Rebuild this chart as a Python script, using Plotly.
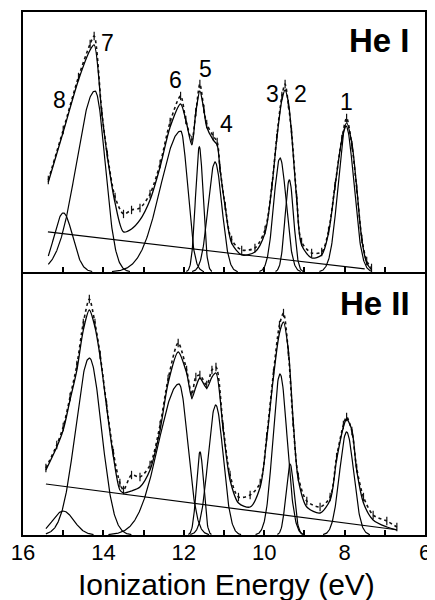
import numpy as np
import plotly.graph_objects as go

# ---------------- data ----------------
peak_labels = ["1", "2", "3", "4", "5", "6", "7", "8"]

# He I fitted Gaussian components (center eV, height, sigma high-E side, sigma low-E side)
hei_center = [7.965, 9.375, 9.607, 11.224, 11.614, 12.077, 14.209, 14.998]
hei_height = [146, 92, 114, 110, 125, 141, 181, 59]
hei_sig_hi = [0.195, 0.106, 0.155, 0.17, 0.095, 0.50, 0.46, 0.23]
hei_sig_lo = [0.195, 0.106, 0.155, 0.17, 0.095, 0.17, 0.25, 0.23]
hei_base_x = [15.38, 7.50]
hei_base_y = [40, 3]

hei_env_x = [15.37, 15.0, 14.62, 14.33, 14.23, 14.04, 13.90, 13.71, 13.5, 13.3, 13.09, 12.84,
             12.59, 12.34, 12.08, 11.95, 11.80, 11.70, 11.60, 11.50, 11.43, 11.27, 11.17, 11.10,
             10.97, 10.81, 10.56, 10.23, 9.98, 9.81, 9.69, 9.56, 9.48, 9.40, 9.32, 9.19, 9.07,
             8.82, 8.57, 8.40, 8.24, 8.07, 7.95, 7.82, 7.70, 7.57, 7.45, 7.33]
hei_env_y = [90, 140, 192, 222, 227, 159, 115, 69, 40, 43, 52, 72,
             105, 145, 168, 152, 127, 160, 181, 162, 145, 132, 127, 103,
             65, 29, 17, 20, 39, 85, 132, 172, 182, 170, 139, 72, 27,
             14, 17, 39, 85, 132, 149, 129, 85, 32, 9, 2]
hei_data_y = [92, 142, 195, 228, 236, 160, 117, 75, 58, 62, 64, 78,
              108, 150, 176, 152, 132, 160, 188, 163, 148, 136, 130, 104,
              66, 32, 22, 24, 42, 86, 134, 176, 188, 168, 140, 74, 30,
              19, 20, 41, 86, 133, 154, 127, 84, 33, 11, 4]

# He II fitted Gaussian components
heii_center = [7.95, 9.358, 9.607, 11.207, 11.597, 12.12, 14.35, 15.0]
heii_height = [103, 71, 161, 130, 83, 151, 177, 24]
heii_sig_hi = [0.176, 0.10, 0.176, 0.187, 0.09, 0.51, 0.34, 0.265]
heii_sig_lo = [0.176, 0.10, 0.176, 0.187, 0.09, 0.22, 0.30, 0.265]
heii_base_x = [15.43, 6.75]
heii_base_y = [51, 5.5]

heii_env_x = [15.43, 15.16, 15.0, 14.83, 14.66, 14.5, 14.35, 14.21, 14.08, 13.92, 13.75, 13.59,
              13.5, 13.3, 13.09, 12.84, 12.59, 12.39, 12.14, 11.93, 11.80, 11.70, 11.60, 11.43,
              11.30, 11.20, 11.02, 10.85, 10.64, 10.35, 10.10, 9.94, 9.77, 9.62, 9.52, 9.40,
              9.28, 9.15, 8.94, 8.61, 8.36, 8.20, 8.03, 7.95, 7.82, 7.70, 7.53, 7.29, 6.95, 6.70]
heii_env_y = [65, 88, 105, 135, 165, 205, 225, 208, 178, 128, 78, 45,
              42, 44, 48, 65, 105, 152, 183, 162, 137, 148, 157, 147,
              158, 162, 105, 55, 32, 28, 48, 95, 158, 202, 213, 185,
              115, 55, 28, 22, 35, 75, 108, 116, 105, 65, 32, 15, 8, 5]
heii_data_y = [67, 90, 108, 138, 170, 212, 236, 212, 180, 130, 82, 52,
               45, 60, 58, 70, 110, 156, 192, 165, 140, 158, 160, 150,
               165, 168, 108, 60, 38, 40, 52, 98, 162, 210, 222, 183,
               112, 58, 34, 28, 38, 78, 110, 118, 104, 67, 38, 20, 14, 8]

# label positions (eV, height) in the He I panel
hei_lab_x = [7.965, 9.085, 9.806, 10.95, 11.46, 12.207, 13.886, 15.10]
hei_lab_y = [170, 178, 178, 148, 203, 192, 229, 172]

x_ticks = [16, 15, 14, 13, 12, 11, 10, 9, 8, 7, 6]
x_ticktext = ["16", "", "14", "", "12", "", "10", "", "8", "", "6"]

FONT = "Liberation Sans, Arial, sans-serif"

fig = go.Figure()


def comp_curve(xg, c, h, shi, slo):
    s = np.where(xg >= c, shi, slo)
    y = h * np.exp(-0.5 * ((xg - c) / s) ** 2)
    y = np.where(y < 0.4, np.nan, y)
    return y


def add_panel(xa, ya, cen, hgt, shi, slo, bx, by, ex, ey, dy):
    xg = np.linspace(max(ex), min(ex), 900)
    for c, h, s1, s2 in zip(cen, hgt, shi, slo):
        fig.add_trace(go.Scatter(x=xg, y=comp_curve(xg, c, h, s1, s2), mode="lines",
                                 line=dict(color="black", width=1.2), xaxis=xa, yaxis=ya,
                                 showlegend=False, hoverinfo="skip"))
    fig.add_trace(go.Scatter(x=bx, y=by, mode="lines", line=dict(color="black", width=1.2),
                             xaxis=xa, yaxis=ya, showlegend=False))
    fig.add_trace(go.Scatter(x=ex, y=dy, mode="lines+markers",
                             line=dict(color="#111", width=1.6, dash="dot", shape="spline", smoothing=0.8),
                             marker=dict(symbol="line-ns-open", size=6, line=dict(width=1.2, color="black")),
                             xaxis=xa, yaxis=ya, showlegend=False))
    fig.add_trace(go.Scatter(x=ex, y=ey, mode="lines",
                             line=dict(color="black", width=1.3, shape="spline", smoothing=0.8),
                             xaxis=xa, yaxis=ya, showlegend=False))


add_panel("x2", "y2", hei_center, hei_height, hei_sig_hi, hei_sig_lo,
          hei_base_x, hei_base_y, hei_env_x, hei_env_y, hei_data_y)
add_panel("x", "y", heii_center, heii_height, heii_sig_hi, heii_sig_lo,
          heii_base_x, heii_base_y, heii_env_x, heii_env_y, heii_data_y)

for t, lx, ly in zip(peak_labels, hei_lab_x, hei_lab_y):
    fig.add_annotation(x=lx, y=ly, xref="x2", yref="y2", text=t, showarrow=False,
                       font=dict(family=FONT, size=23, color="black"))

fig.add_annotation(x=0.968, y=0.9455, xref="paper", yref="paper", text="<b>He I</b>",
                   showarrow=False, xanchor="right", yanchor="middle",
                   font=dict(family=FONT, size=33, color="black"))
fig.add_annotation(x=0.968, y=0.4417, xref="paper", yref="paper", text="<b>He II</b>",
                   showarrow=False, xanchor="right", yanchor="middle",
                   font=dict(family=FONT, size=33, color="black"))
fig.add_annotation(x=0.505, y=-0.094, xref="paper", yref="paper", text="Ionization Energy (eV)",
                   showarrow=False, xanchor="center", yanchor="middle",
                   font=dict(family=FONT, size=30, color="black"))

axis_common = dict(showline=True, mirror=True, linewidth=2, linecolor="black",
                   showgrid=False, zeroline=False, automargin=False)

# page has an 8px body margin, so the figure is 8px smaller and margins shifted
fig.update_layout(
    width=427, height=592,
    margin=dict(l=15, r=10, t=4, b=65),
    paper_bgcolor="white", plot_bgcolor="white",
    xaxis=dict(range=[16, 6], anchor="y", tickvals=x_ticks, ticktext=x_ticktext,
               ticks="inside", ticklen=5, tickwidth=1.5, tickcolor="black",
               tickfont=dict(family=FONT, size=22, color="black"), ticklabelstandoff=-3,
               **axis_common),
    xaxis2=dict(range=[16, 6], anchor="y2", matches="x", tickvals=x_ticks, showticklabels=False,
                ticks="inside", ticklen=5, tickwidth=1.5, tickcolor="black", **axis_common),
    yaxis=dict(domain=[0, 0.499], range=[0, 261], showticklabels=False, ticks="", **axis_common),
    yaxis2=dict(domain=[0.503, 1], range=[0, 260], showticklabels=False, ticks="", **axis_common),
)

fig.write_html("out.html")
